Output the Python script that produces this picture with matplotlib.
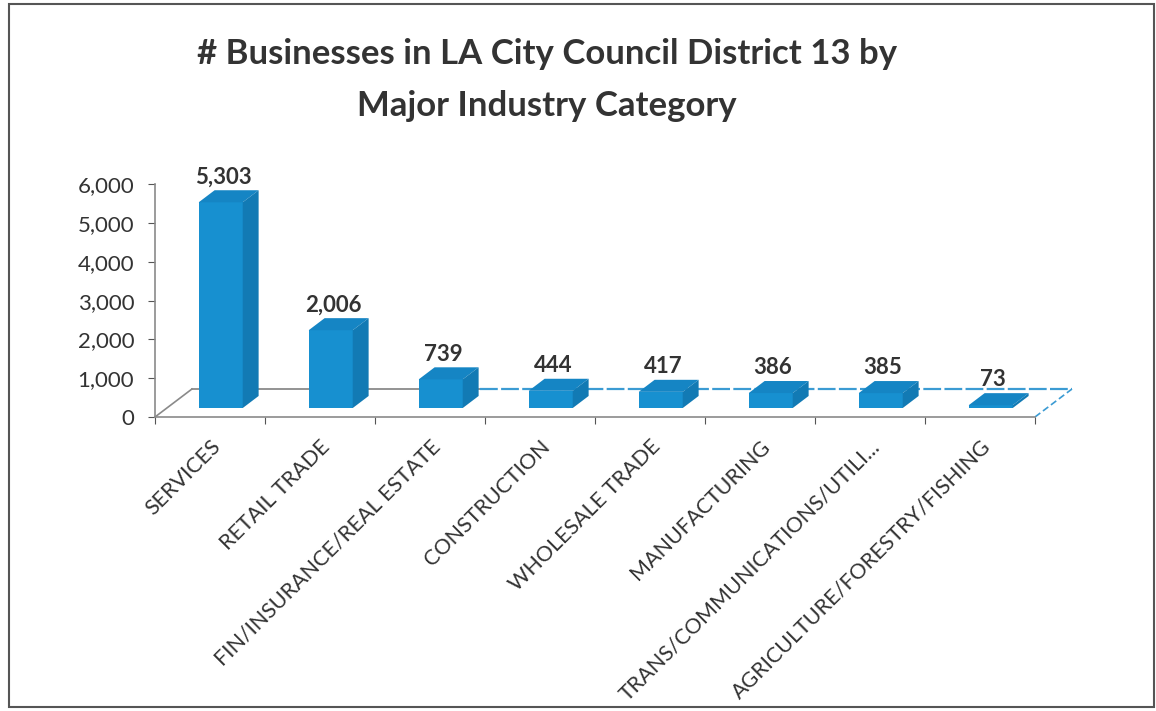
import matplotlib
matplotlib.use('Agg')
import matplotlib.pyplot as plt
from matplotlib.patches import Polygon, Rectangle

plt.rcParams['font.family'] = ['Lato', 'DejaVu Sans']

# data
categories = ['SERVICES', 'RETAIL TRADE', 'FIN/INSURANCE/REAL ESTATE', 'CONSTRUCTION',
              'WHOLESALE TRADE', 'MANUFACTURING', 'TRANS/COMMUNICATIONS/UTILI...',
              'AGRICULTURE/FORESTRY/FISHING']
values = [5303, 2006, 739, 444, 417, 386, 385, 73]
yticks = [0, 1000, 2000, 3000, 4000, 5000, 6000]
title = '# Businesses in LA City Council District 13 by\nMajor Industry Category'

front_col = '#1790d0'
side_col = '#127ab4'
top_col = '#1585c4'
text_col = '#333333'
axis_col = '#8a8a8a'

# fake 3d depth (x in category units, y in value units)
DX, DY = 0.336, 722
f_front, f_depth = 0.32, 0.43
bar_w = 0.40

fig = plt.figure(figsize=(11.56, 7.11), dpi=100)
ax = fig.add_axes([155/1156, 294/711, 945/1156, 247/711])
ax.set_xlim(0, 945/110)
ax.set_ylim(0, 247/0.0388)

# floor outline
n = len(categories)
ax.plot([0, DX], [0, DY], color=axis_col, lw=1.2, zorder=1, clip_on=False)
ax.plot([DX, 2.95], [DY, DY], color=axis_col, lw=1.3, zorder=1, clip_on=False)
ax.plot([2.95, n + DX], [DY, DY], color='#3b9bd3', lw=1.6, ls=(0, (8, 1.5)), zorder=1, clip_on=False)
ax.plot([n, n + DX], [0, DY], color='#3b9bd3', lw=1.2, ls=(0, (4, 2)), zorder=1, clip_on=False)

# bars: front face through ax.bar, top/side faces as polygons
base = f_front * DY
lefts = [i + 0.29 + f_front * DX for i in range(n)]
ax.bar(lefts, values, width=bar_w, bottom=base, align='edge', color=front_col,
       edgecolor='none', zorder=3)
ddx, ddy = f_depth * DX, f_depth * DY
for x0, v in zip(lefts, values):
    top = base + v
    ax.add_patch(Polygon([(x0, top), (x0 + bar_w, top), (x0 + bar_w + ddx, top + ddy),
                          (x0 + ddx, top + ddy)], closed=True, color=top_col, lw=0, zorder=3))
    ax.add_patch(Polygon([(x0 + bar_w, base), (x0 + bar_w + ddx, base + ddy),
                          (x0 + bar_w + ddx, top + ddy), (x0 + bar_w, top)],
                         closed=True, color=side_col, lw=0, zorder=3))
    ax.annotate(f'{v:,}', (x0 + bar_w / 2 + 0.02, top + ddy), xytext=(0, 2),
                textcoords='offset points', ha='center', va='bottom',
                fontsize=16, fontweight='bold', color=text_col)

# axes styling
for s in ['top', 'right']:
    ax.spines[s].set_visible(False)
ax.spines['left'].set_bounds(0, 6000)
ax.spines['bottom'].set_bounds(0, n)
ax.spines['left'].set_color(axis_col)
ax.spines['bottom'].set_color(axis_col)
ax.spines['left'].set_linewidth(1.2)
ax.spines['bottom'].set_linewidth(1.2)

ax.set_yticks(yticks)
ax.set_yticklabels([f'{t:,}' for t in yticks])
ax.tick_params(axis='y', direction='out', length=5, color='#555555', pad=10,
               labelsize=16, labelcolor=text_col)

ax.set_xticks(range(n + 1))
ax.set_xticklabels([])
ax.tick_params(axis='x', which='major', direction='out', length=5, color='#555555')
ax.set_xticks([i + 0.5 for i in range(n)], minor=True)
ax.set_xticklabels(categories, minor=True, rotation=45, ha='right', va='top',
                   rotation_mode='anchor', fontsize=15.5, color=text_col)
ax.tick_params(axis='x', which='minor', length=0, pad=14)

fig.text(547/1156, 1 - 38/711, title, ha='center', va='top', fontsize=25,
         fontweight='bold', color=text_col, linespacing=1.75)

fig.patches.append(Rectangle((9/1156, 4/711), 1145/1156, 703/711, transform=fig.transFigure,
                             fill=False, edgecolor='#555555', lw=1.5))

fig.savefig('out.png', dpi=100)
